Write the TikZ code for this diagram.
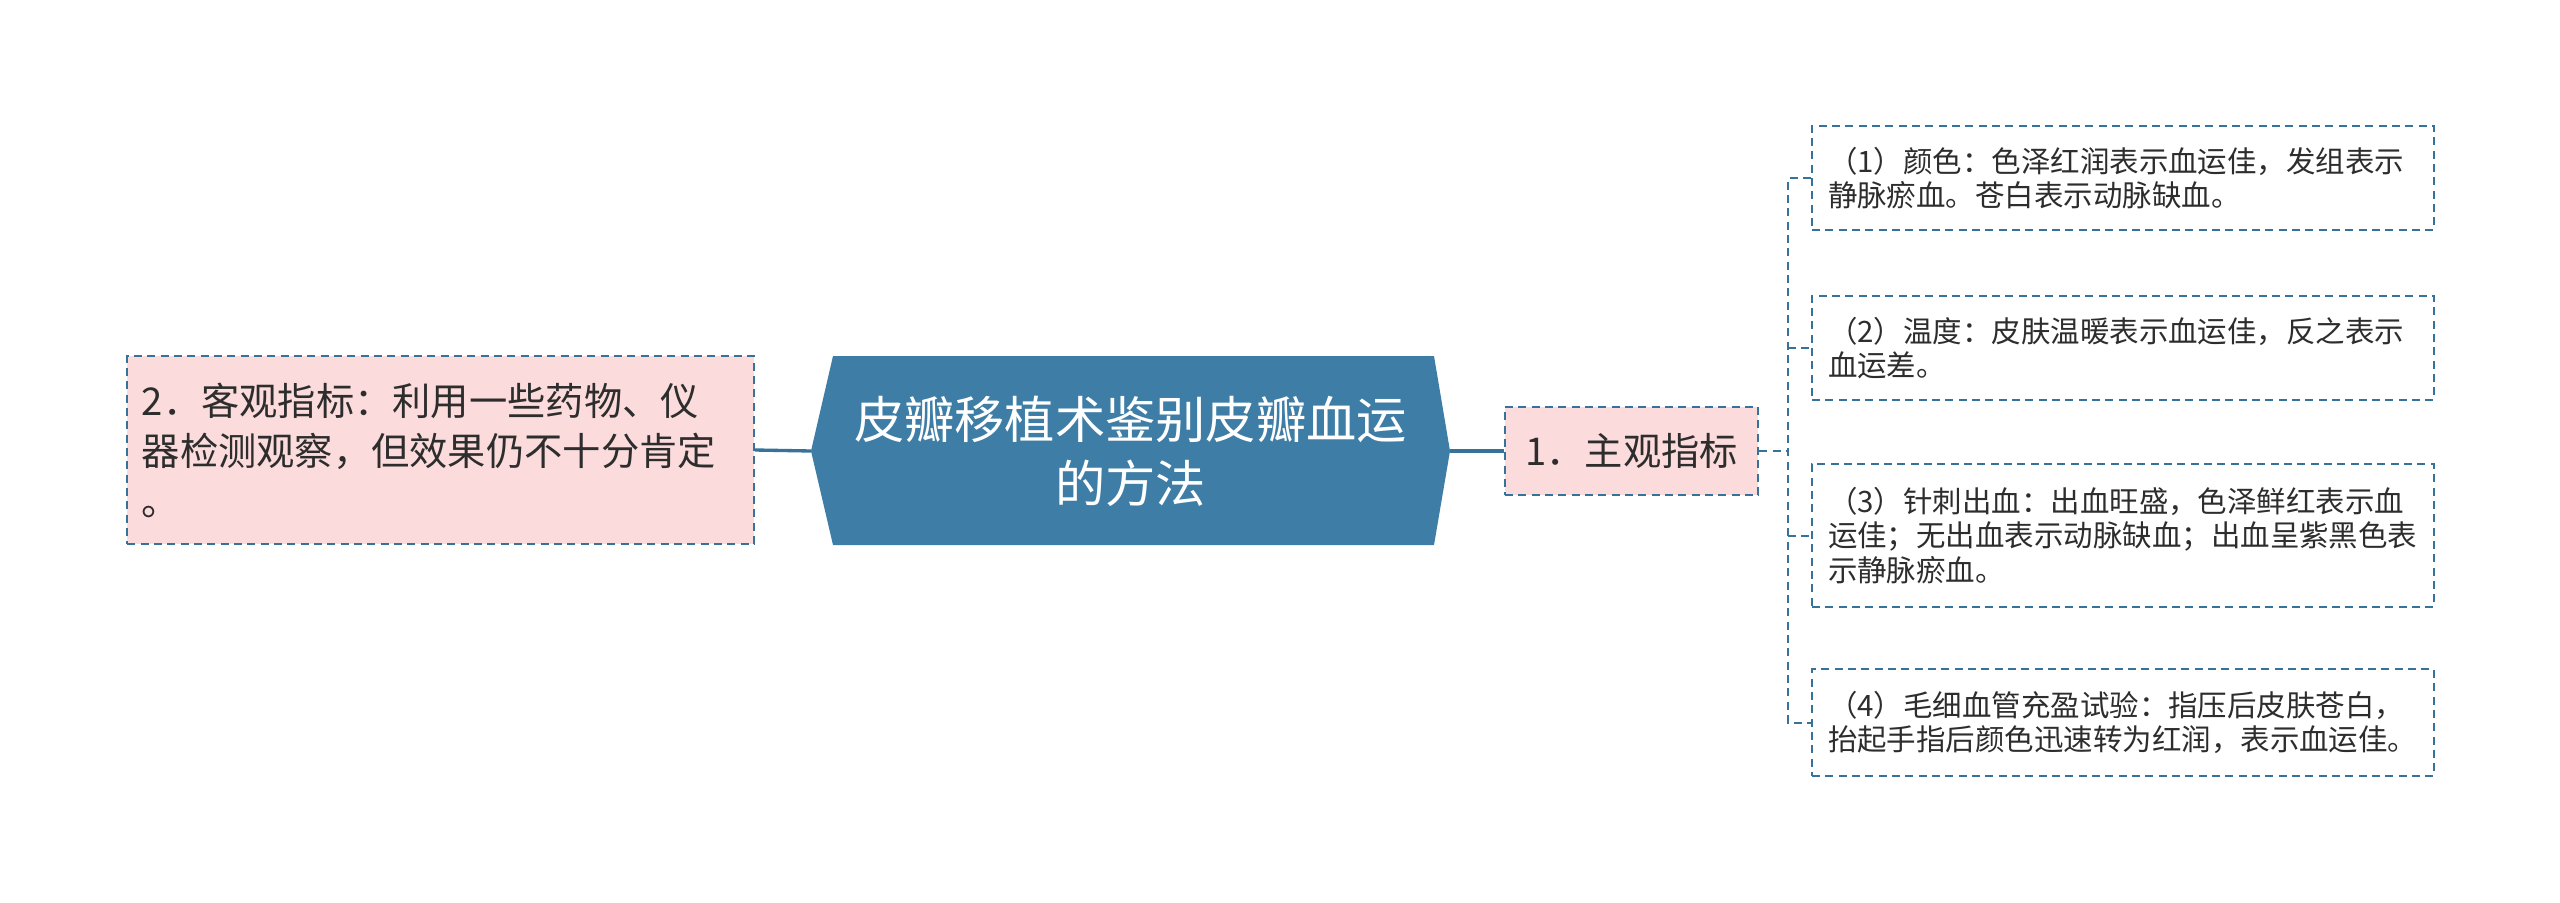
\documentclass[tikz,border=0pt]{standalone}
\usepackage{fontspec}
\newfontfamily\cjk{Noto Sans CJK SC}
\definecolor{hexfill}{RGB}{62,126,166}
\definecolor{edgeblue}{RGB}{54,114,154}
\definecolor{pinkfill}{RGB}{251,219,219}
\definecolor{txt}{RGB}{45,45,45}
\begin{document}
\begin{tikzpicture}[x=0.75pt,y=-0.75pt,
  font=\cjk,
  pinkbox/.style={draw=edgeblue, fill=pinkfill, line width=1.5pt, dash pattern=on 6pt off 4pt, text=txt, inner sep=0pt},
  childbox/.style={draw=edgeblue, fill=white, line width=1.5pt, dash pattern=on 6pt off 4pt, text=txt, align=left,
    inner xsep=12pt, inner ysep=0pt, text width=442.5pt, font=\cjk\fontsize{22.1}{25.8}\selectfont},
  solidconn/.style={draw=edgeblue, line width=2.5pt},
  dashconn/.style={draw=edgeblue, line width=1.5pt, dash pattern=on 6pt off 4pt}]
\useasboundingbox (0,0) rectangle (2560,903);

% central hexagon
\coordinate (hexL) at (811,451);
\coordinate (hexR) at (1450,451);
\fill[hexfill] (hexL) -- (833,356) -- (1434,356) -- (hexR) -- (1434,545) -- (833,545) -- cycle;
\node[text=white, align=center, font=\cjk\fontsize{37.7}{48}\selectfont] (hub) at (1130.5,451)
  {皮瓣移植术鉴别皮瓣血运\\的方法};

% left box
\node[pinkbox, align=left, text width=448pt, inner xsep=11pt, minimum height=141pt,
  font=\cjk\fontsize{28.7}{37.5}\selectfont] (left) at (440.5,450)
  {2．客观指标：利用一些药物、仪\\器检测观察，但效果仍不十分肯定\\。};

% node 1
\node[pinkbox, align=center, minimum width=190pt, minimum height=66pt,
  font=\cjk\fontsize{28.7}{34}\selectfont] (n1) at (1631.5,451) {1．主观指标};

% children
\node[childbox, minimum height=78pt] (c1) at (2123,178)
  {（1）颜色：色泽红润表示血运佳，发组表示\\静脉瘀血。苍白表示动脉缺血。};
\node[childbox, minimum height=78pt] (c2) at (2123,348)
  {（2）温度：皮肤温暖表示血运佳，反之表示\\血运差。};
\node[childbox, minimum height=107pt] (c3) at (2123,535.5)
  {（3）针刺出血：出血旺盛，色泽鲜红表示血\\运佳；无出血表示动脉缺血；出血呈紫黑色表\\示静脉瘀血。};
\node[childbox, minimum height=80pt] (c4) at (2123,722.5)
  {（4）毛细血管充盈试验：指压后皮肤苍白，\\抬起手指后颜色迅速转为红润，表示血运佳。};

% connectors
\draw[solidconn] (hexL) -- (left.east);
\draw[solidconn] (hexR) -- (n1.west);
\coordinate (bx) at (1788,451);
\draw[dashconn] (n1.east) -- (bx);
\draw[dashconn] (c1.west) -| (bx) |- (c4.west);
\draw[dashconn] (bx |- c2.west) -- (c2.west);
\draw[dashconn] (bx |- c3.west) -- (c3.west);
\end{tikzpicture}
\end{document}
